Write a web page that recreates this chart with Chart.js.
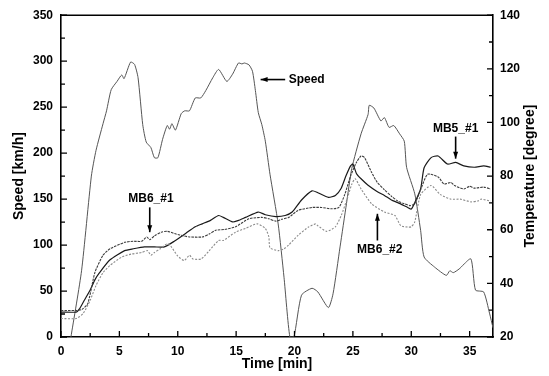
<!DOCTYPE html>
<html>
<head>
<meta charset="utf-8">
<script src="https://cdn.jsdelivr.net/npm/chart.js@4.4.1/dist/chart.umd.min.js"></script>
<style>
  html, body { margin: 0; padding: 0; background: #fff; }
  #wrap { width: 549px; height: 376px; }
</style>
</head>
<body>
<div id="wrap"><canvas id="grafico" width="549" height="376"></canvas></div>
<script>
// ejes
const timeTicks = [0, 5, 10, 15, 20, 25, 30, 35];
const speedTicks = [0, 50, 100, 150, 200, 250, 300, 350];
const tempTicks = [20, 40, 60, 80, 100, 120, 140];

// velocidad [km/h]
const speedTime = [0.85,1.76,2.6,3.0,3.6,3.9,4.3,4.8,5.2,5.4,5.96,6.3,6.6,7.0,7.3,7.7,8.0,8.3,8.7,9.1,9.3,9.5,9.8,10.3,10.6,11.0,11.5,11.97,12.4,13.0,13.5,14.2,14.7,15.2,15.5,15.7,16.1,16.4,16.65,16.9,17.2,17.5,17.9,18.6,19.1,19.6,19.95,20.6,21.5,22.0,22.9,23.3,23.9,24.45,24.9,25.7,26.3,26.4,26.8,27.4,27.7,28.1,28.5,29.0,29.4,29.6,30.3,30.8,31.1,32.0,33.0,33.3,33.6,34.1,35.1,35.5,36.2,36.7,37];
const speedVals = [0,72,175,203,232,246,269,278,285,281,299,296.5,282,231,212,206,195,195,215,230,226,232,225,243,246,246,260,260,268,282,291,278,286,298,297,298,296,289,268,244,231,213,177,123,65,0,0,45.5,53,49,32,47,98,145,183,221,242,252,249,235,238.6,228,230,221,213,184.5,155.7,116,87,76,67,72,70,74,85,51,49,26,10];

// MB5_#1 [degree]
const mb5Time = [0,1.3,1.6,2.0,2.5,2.9,3.3,4.2,5.45,6.2,7.15,8.0,8.85,9.7,10.7,11.5,12.1,12.8,13.5,13.9,14.7,15.2,15.8,16.9,17.5,18.4,19.2,19.8,20.6,21.5,22.0,22.9,23.5,24.0,24.4,24.8,25.0,25.3,25.7,26.3,27.1,27.7,28.3,28.85,29.7,30.0,30.3,30.8,31.1,31.7,32.3,33.1,33.8,34.5,35.4,36.2,36.8];
const mb5Temp = [29.3,29.3,30.6,33.7,37.5,41.3,44.0,48.8,52.2,52.9,53.6,53.6,53.6,55.7,58.7,61.1,62.2,63.5,65.3,64.6,62.9,63.5,64.6,66.6,65.6,64.9,65.3,66.6,71.1,74.5,73.8,72.1,72.8,75.5,80.0,83.8,84.5,81.0,79.0,76.6,74.2,72.8,71.1,70.1,68.3,67.7,70.1,75.2,83.1,86.9,87.5,84.5,85.1,83.8,83.3,83.8,83.3];

// MB6_#1 [degree]
const mb6aTime = [0,1.3,1.8,2.3,2.9,3.6,4.2,5.45,6.2,6.9,7.35,7.6,8.0,8.6,9.1,9.85,10.5,11.0,12.1,12.7,13.25,14.0,14.95,16.1,17.2,17.8,18.4,18.9,19.5,20.3,21.5,22.3,23.2,23.8,24.3,24.8,25.3,25.7,26.0,26.6,27.1,27.7,28.3,28.85,29.4,29.9,30.3,30.8,31.4,32.3,32.8,33.4,33.7,34.5,35.0,35.4,36.2,36.8];
const mb6aTemp = [29.9,29.9,30.3,32.5,44.0,50.5,52.9,55.3,55.7,55.7,57.3,56.3,57.7,59.1,59.4,58.4,57.7,57.3,57.3,58.4,59.8,60.1,61.1,64.1,64.6,64.1,63.2,63.9,64.6,67.2,68.3,68.3,67.8,68.3,73.1,80.0,85.1,87.5,86.9,81.4,77.6,74.9,72.5,70.7,69.7,69.0,69.7,74.9,80.7,79.7,77.1,77.6,76.5,75.2,76.2,75.5,75.9,75.2];

// MB6_#2 [degree]
const mb6bTime = [0,1.3,1.9,2.5,3.0,3.6,4.2,5.2,6.0,6.9,7.4,7.7,8.0,8.5,9.1,9.4,10.0,10.55,11.0,11.3,12.0,12.7,13.5,13.9,14.95,15.8,16.8,17.5,17.8,17.9,18.6,19.1,19.5,20.3,21.2,21.8,22.0,22.75,23.5,24.0,24.5,24.9,25.2,25.7,26.6,27.7,28.6,29.1,29.7,30.0,30.3,30.8,31.7,32.5,33.4,34.2,35.1,35.7,36.0,36.8];
const mb6bTemp = [26.9,26.9,28.8,33.7,39.2,44.0,46.7,49.8,50.9,51.5,52.2,50.5,51.5,52.9,54.8,53.9,50.2,48.5,50.5,49.1,49.1,52.2,56.0,56.0,59.1,60.5,62.2,60.5,57.4,53.3,52.2,52.9,54.3,57.9,61.0,62.2,61.5,59.4,61.1,65.3,71.4,76.9,79.0,75.2,69.7,66.6,65.3,61.5,61.0,61.1,62.9,73.1,76.5,73.1,71.4,71.4,70.4,70.7,71.4,70.7];

const FONT = "'Liberation Sans', Arial, sans-serif";

function puntos(xs, ys) {
    return xs.map((x, i) => ({ x: x, y: ys[i] }));
}

// ticks hacia adentro, marco superior, titulos y flechas
const marco = {
    id: "marco",
    afterDraw(chart) {
        const ctx = chart.ctx;
        const a = chart.chartArea;
        const sx = chart.scales.x, sy = chart.scales.y, st = chart.scales.y2;
        ctx.save();
        ctx.strokeStyle = "#000";
        ctx.lineWidth = 1.6;
        ctx.beginPath();
        ctx.moveTo(a.left, a.top);
        ctx.lineTo(a.right, a.top);
        ctx.stroke();

        ctx.lineWidth = 1.3;
        ctx.beginPath();
        for (let v = 0; v <= 37; v += 2.5) {
            const px = sx.getPixelForValue(v);
            const len = v % 5 === 0 ? 6 : 4;
            ctx.moveTo(px, a.bottom);
            ctx.lineTo(px, a.bottom - len);
        }
        for (let v = 0; v <= 350; v += 25) {
            const py = sy.getPixelForValue(v);
            const len = v % 50 === 0 ? 6 : 4;
            ctx.moveTo(a.left, py);
            ctx.lineTo(a.left + len, py);
        }
        for (let v = 20; v <= 140; v += 10) {
            const py = st.getPixelForValue(v);
            const len = v % 20 === 0 ? 6 : 4;
            ctx.moveTo(a.right, py);
            ctx.lineTo(a.right - len, py);
        }
        ctx.stroke();

        // titulos de ejes
        ctx.fillStyle = "#000";
        ctx.font = "bold 14px " + FONT;
        ctx.textAlign = "center";
        ctx.textBaseline = "middle";
        ctx.fillText("Time [min]", (a.left + a.right) / 2, 364);
        ctx.save();
        ctx.translate(19, (a.top + a.bottom) / 2);
        ctx.rotate(-Math.PI / 2);
        ctx.fillText("Speed [km/h]", 0, 0);
        ctx.restore();
        ctx.save();
        ctx.translate(530, (a.top + a.bottom) / 2);
        ctx.rotate(-Math.PI / 2);
        ctx.fillText("Temperature [degree]", 0, 0);
        ctx.restore();

        // etiquetas con flecha
        ctx.font = "bold 12px " + FONT;
        function flecha(x1, y1, x2, y2) {
            ctx.beginPath();
            ctx.moveTo(x1, y1);
            ctx.lineTo(x2, y2);
            ctx.lineWidth = 1.6;
            ctx.stroke();
            const ang = Math.atan2(y2 - y1, x2 - x1);
            ctx.beginPath();
            ctx.moveTo(x2, y2);
            ctx.lineTo(x2 - 7 * Math.cos(ang) + 2.5 * Math.sin(ang), y2 - 7 * Math.sin(ang) - 2.5 * Math.cos(ang));
            ctx.lineTo(x2 - 7 * Math.cos(ang) - 2.5 * Math.sin(ang), y2 - 7 * Math.sin(ang) + 2.5 * Math.cos(ang));
            ctx.closePath();
            ctx.fill();
        }
        // Speed
        flecha(sx.getPixelForValue(19.2), sy.getPixelForValue(280), sx.getPixelForValue(17.1), sy.getPixelForValue(280));
        ctx.textAlign = "left";
        ctx.fillText("Speed", sx.getPixelForValue(19.5), sy.getPixelForValue(280));
        ctx.textAlign = "center";
        // MB6_#1
        ctx.fillText("MB6_#1", sx.getPixelForValue(7.7), sy.getPixelForValue(150));
        flecha(sx.getPixelForValue(7.6), sy.getPixelForValue(141), sx.getPixelForValue(7.6), sy.getPixelForValue(114));
        // MB6_#2
        ctx.fillText("MB6_#2", sx.getPixelForValue(27.3), sy.getPixelForValue(95));
        flecha(sx.getPixelForValue(27.1), sy.getPixelForValue(105), sx.getPixelForValue(27.1), sy.getPixelForValue(134));
        // MB5_#1
        ctx.fillText("MB5_#1", sx.getPixelForValue(33.8), sy.getPixelForValue(227));
        flecha(sx.getPixelForValue(33.8), sy.getPixelForValue(218), sx.getPixelForValue(33.8), sy.getPixelForValue(194));
        ctx.restore();
    }
};

const ctxGrafico = document.getElementById("grafico").getContext("2d");
const grafico = new Chart(ctxGrafico, {
    type: "line",
    data: {
        datasets: [
            {
                label: "MB6_#2",
                data: puntos(mb6bTime, mb6bTemp),
                yAxisID: "y2",
                borderColor: "#8a8a8a",
                borderWidth: 1.1,
                borderDash: [2, 1.5]
            },
            {
                label: "MB6_#1",
                data: puntos(mb6aTime, mb6aTemp),
                yAxisID: "y2",
                borderColor: "#3c3c3c",
                borderWidth: 1.1,
                borderDash: [2.5, 1]
            },
            {
                label: "MB5_#1",
                data: puntos(mb5Time, mb5Temp),
                yAxisID: "y2",
                borderColor: "#1a1a1a",
                borderWidth: 1.2
            },
            {
                label: "Speed",
                data: puntos(speedTime, speedVals),
                yAxisID: "y",
                borderColor: "#555",
                borderWidth: 1
            }
        ]
    },
    options: {
        responsive: false,
        animation: false,
        layout: { padding: { top: 14, left: 0, right: 0, bottom: 0 } },
        elements: { point: { radius: 0 }, line: { tension: 0.2 } },
        plugins: { legend: { display: false }, tooltip: { enabled: false } },
        scales: {
            x: {
                type: "linear",
                min: 0,
                max: 37,
                afterBuildTicks: s => { s.ticks = timeTicks.map(v => ({ value: v })); },
                afterFit: s => { s.height = 39; },
                grid: { drawOnChartArea: false, drawTicks: false },
                border: { color: "#000", width: 1.6 },
                ticks: { color: "#000", padding: 7, maxRotation: 0, font: { family: FONT, size: 12, weight: "bold" } }
            },
            y: {
                position: "left",
                min: 0,
                max: 350,
                afterBuildTicks: s => { s.ticks = speedTicks.map(v => ({ value: v })); },
                afterFit: s => { s.width = 61; },
                grid: { drawOnChartArea: false, drawTicks: false },
                border: { color: "#000", width: 1.6 },
                ticks: { color: "#000", padding: 8, font: { family: FONT, size: 12, weight: "bold" } }
            },
            y2: {
                position: "right",
                min: 20,
                max: 140,
                afterBuildTicks: s => { s.ticks = tempTicks.map(v => ({ value: v })); },
                afterFit: s => { s.width = 56; },
                grid: { drawOnChartArea: false, drawTicks: false },
                border: { color: "#000", width: 1.6 },
                ticks: { color: "#000", padding: 7, font: { family: FONT, size: 12, weight: "bold" } }
            }
        }
    },
    plugins: [marco]
});
</script>
</body>
</html>
